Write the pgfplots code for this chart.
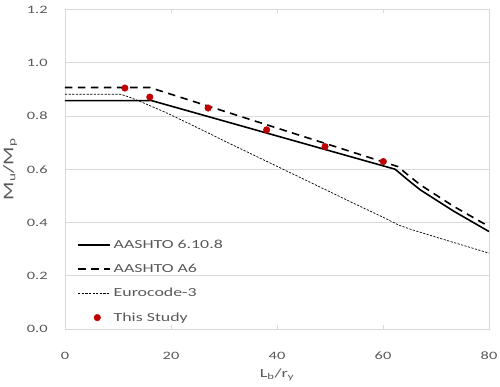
\documentclass[border=0pt]{standalone}
\usepackage{fontspec}
\setmainfont{Carlito}[FakeStretch=1.45]
\usepackage{pgfplots}
\pgfplotsset{compat=1.18}
\definecolor{txt}{HTML}{595959}
\definecolor{grd}{HTML}{D9D9D9}
\definecolor{ptc}{HTML}{C00000}
\pgfplotsset{dotlegend/.style={legend image code/.code={\path[draw=none,fill=none] (0pt,0pt) -- (32pt,0pt);
    \draw[##1] plot coordinates {(19pt,0pt)};}}}
\begin{document}
\begin{tikzpicture}
\begin{axis}[
  scale only axis, width=424pt, height=319.5pt,
  xmin=0, xmax=80, ymin=0, ymax=1.2,
  xtick={0,20,40,60,80},
  ytick={0,0.2,0.4,0.6,0.8,1.0,1.2},
  ymajorgrids,
  grid style={grd, line width=0.75pt},
  axis line style={grd, line width=0.75pt},
  tick align=inside, major tick length=4pt,
  xtick style={grd, line width=0.75pt},
  ytick style={draw=none},
  tick label style={text=txt, font=\fontsize{11.3}{13}\selectfont},
  /pgf/number format/assume math mode=true,
  yticklabel style={/pgf/number format/fixed, /pgf/number format/fixed zerofill, /pgf/number format/precision=1, xshift=-13.9pt},
  xticklabel style={yshift=-19.5pt},
  xlabel={L\textsubscript{b}/r\textsubscript{y}},
  ylabel={M\textsubscript{u}/M\textsubscript{p}},
  xlabel style={at={(axis description cs:0.5,-0.151)}, anchor=base, text=txt, font=\fontsize{12.5}{15}\selectfont},
  ylabel style={at={(axis description cs:-0.1219,0.5)}, anchor=base, text=txt, font=\fontsize{14.8}{17}\selectfont},
  legend cell align=left,
  legend style={draw=none, fill=none, at={(axis description cs:0.029,0.2825)}, anchor=north west,
    inner sep=0pt, row sep=12.3pt, column sep=1.6pt,
    font=\fontsize{12.3}{14}\selectfont, text=txt,
    nodes={inner sep=1pt},
    column 2/.style={nodes={text height=8pt, text depth=0.5pt}}},
  legend image code/.code={\draw[#1] (0pt,0pt) -- (32pt,0pt);},
]
\addplot[black, line width=1.6pt] coordinates {
(0,0.858) (16.3,0.858) (62.3,0.600) (64.5,0.563) (67,0.523) (73.3,0.443) (80,0.366)};
\addlegendentry{AASHTO 6.10.8}
\addplot[black, line width=1.6pt, dash pattern=on 7.5pt off 5.5pt] coordinates {
(0,0.907) (16.0,0.907) (62.8,0.610) (64.8,0.577) (67,0.542) (73.3,0.461) (80,0.385)};
\addlegendentry{AASHTO A6}
\addplot[black, line width=0.7pt, dash pattern=on 2.2pt off 1.4pt] coordinates {
(0,0.882) (10.4,0.882) (12,0.872) (14,0.856) (16,0.839) (18,0.822) (20,0.804)
(25,0.756) (30,0.707) (35,0.659) (40,0.611) (45,0.563) (50,0.515) (55,0.467)
(60,0.420) (63,0.390) (65,0.376) (70,0.345) (75,0.315) (80,0.285)};
\addlegendentry{Eurocode-3}
\addplot[only marks, mark=*, mark size=3.3pt, mark options={draw=ptc, fill=ptc}, dotlegend]
coordinates {(11.3,0.905) (16.0,0.871) (27.0,0.830) (38.05,0.748) (49.06,0.685) (60.06,0.629)};
\addlegendentry{This Study}
\end{axis}
\pgfresetboundingbox
\path (current axis.south west) ++(-65pt,-58pt) rectangle ++(500pt,387pt);
\end{tikzpicture}
\end{document}
